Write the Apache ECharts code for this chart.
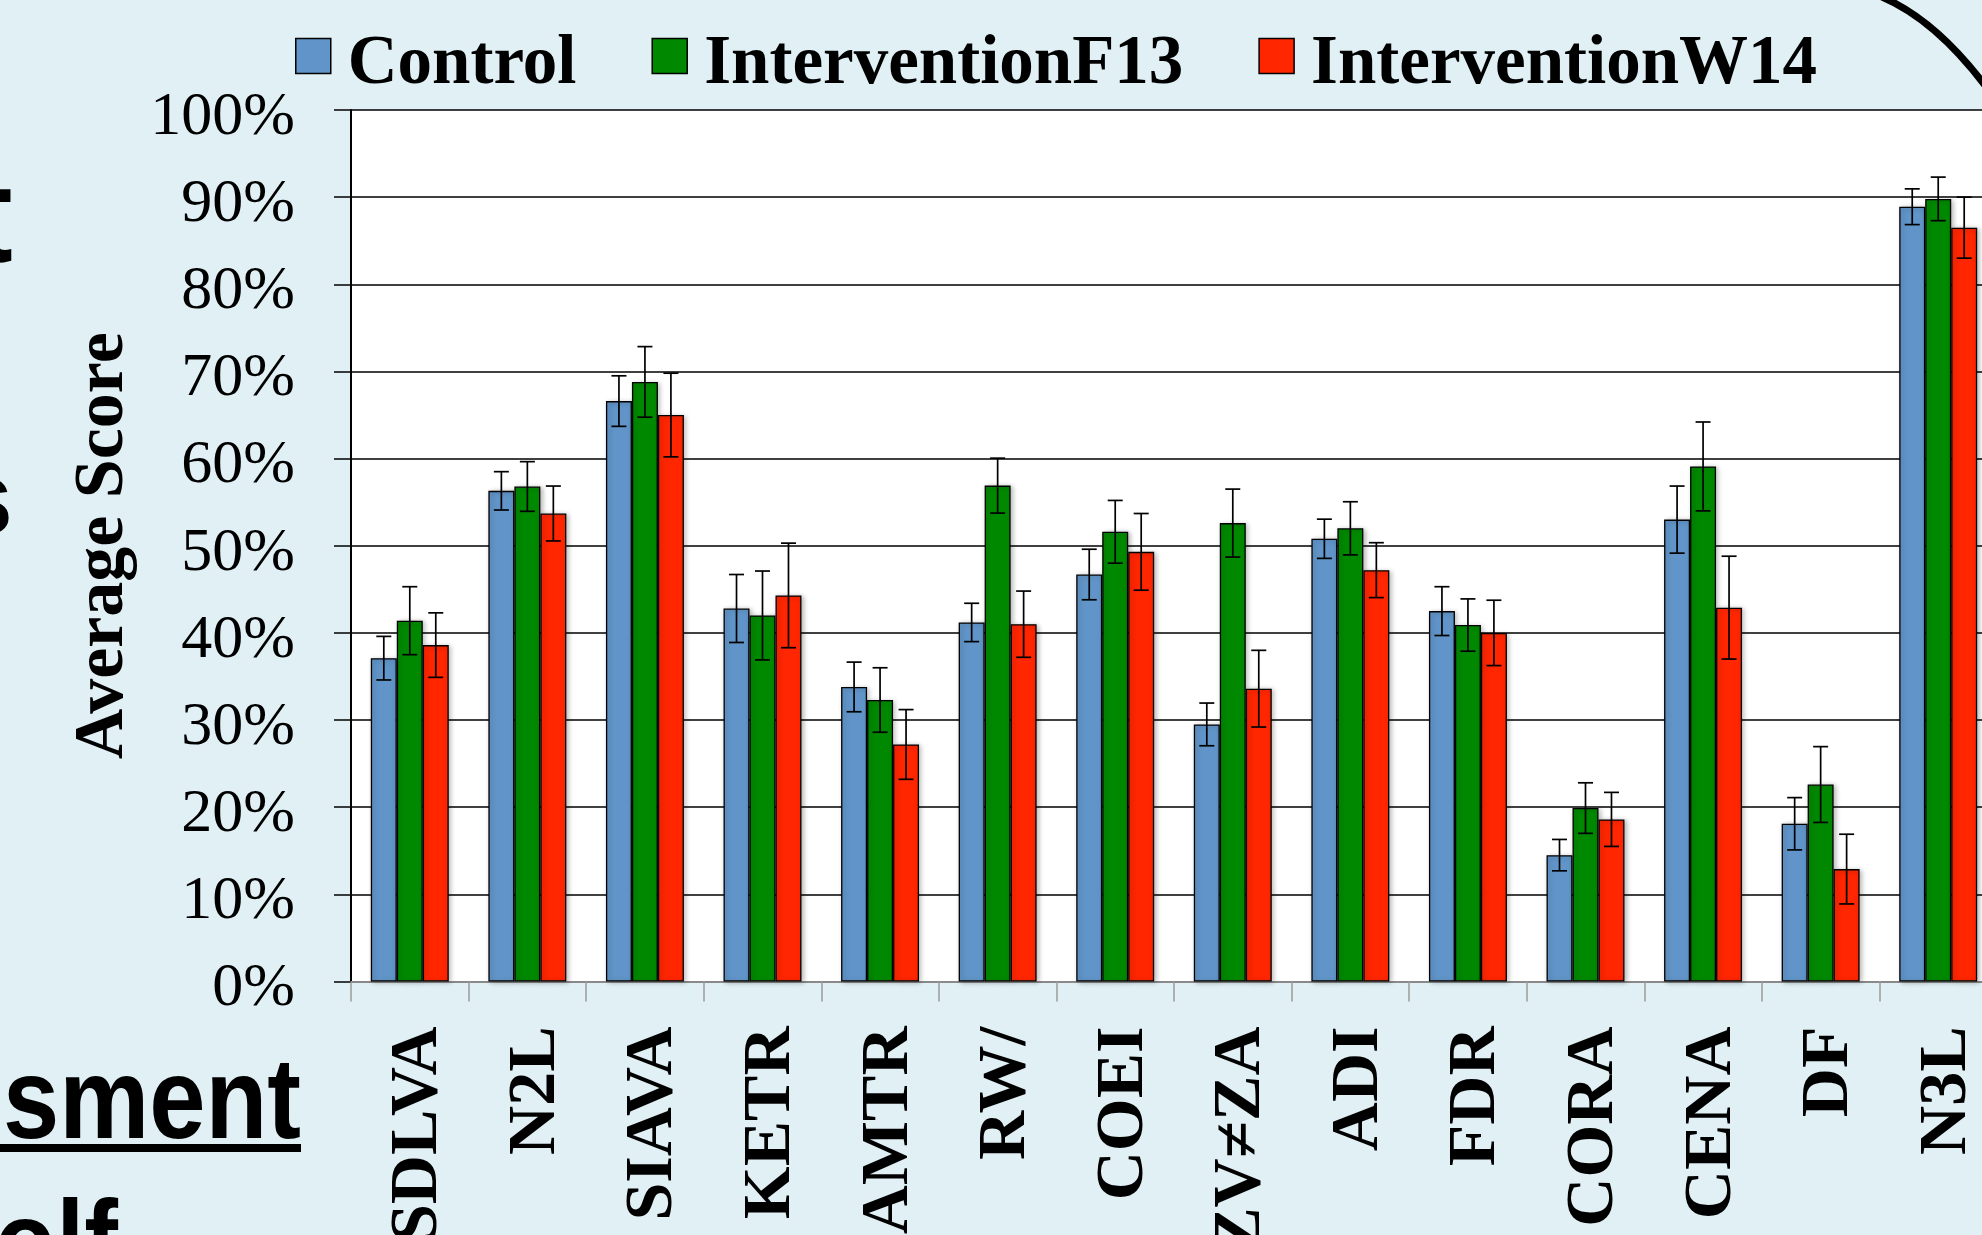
<!DOCTYPE html>
<html>
<head>
<meta charset="utf-8">
<title>Average Score by Item</title>
<script src="https://cdn.jsdelivr.net/npm/echarts@6/dist/echarts.min.js"></script>
<style>
  html, body { margin: 0; padding: 0; background: #E0F0F5; }
  #chart { width: 1982px; height: 1235px; }
</style>
</head>
<body>
<div id="chart"></div>
<script>
// Item labels along the x axis
const categories = ['SDLVA', 'N2L', 'SIAVA', 'KETR', 'AMTR', 'RW/', 'COEI', 'ZV\u2260ZA', 'ADI', 'FDR', 'CORA', 'CENA', 'DF', 'N3L'];

// Average scores (%) and half-width of the error bars (%)
const control      = [37.1, 56.3, 66.6, 42.8, 33.8, 41.2, 46.7, 29.5, 50.8, 42.5, 14.5, 53.0, 18.1, 88.9];
const controlErr   = [2.5, 2.2, 2.9, 3.9, 2.85, 2.2, 2.9, 2.45, 2.25, 2.8, 1.8, 3.85, 3.0, 2.05];
const interventionF13    = [41.4, 56.8, 68.8, 42.0, 32.3, 56.9, 51.6, 52.6, 52.0, 40.9, 19.9, 59.1, 22.6, 89.8];
const interventionF13Err = [3.9, 2.85, 4.05, 5.1, 3.7, 3.15, 3.6, 3.9, 3.05, 3.0, 2.9, 5.1, 4.35, 2.5];
const interventionW14    = [38.6, 53.7, 65.0, 44.3, 27.2, 41.0, 49.3, 33.6, 47.2, 40.0, 18.6, 42.9, 12.9, 86.5];
const interventionW14Err = [3.7, 3.15, 4.8, 6.0, 4.0, 3.8, 4.4, 4.4, 3.15, 3.75, 3.1, 5.9, 4.0, 3.5];

// Y axis ticks
const yMin = 0, yMax = 100, yStep = 10;

const seriesDefs = [
  { name: 'Control', values: control, errors: controlErr, color: '#6195C9' },
  { name: 'InterventionF13', values: interventionF13, errors: interventionF13Err, color: '#008900' },
  { name: 'InterventionW14', values: interventionW14, errors: interventionW14Err, color: '#FF2600' }
];

const CAT_GAP = 0.337;          // share of each category left empty
const SERIF = "'Liberation Serif', 'Times New Roman', serif";
const SANS = "'Liberation Sans', Arial, sans-serif";

function errorBarRenderer(slot, count) {
  return function (params, api) {
    const idx = api.value(0);
    const v = api.value(1);
    const e = api.value(2);
    const band = api.size([1, 0])[0];
    const bw = band * (1 - CAT_GAP) / count;
    const off = (slot - (count - 1) / 2) * bw;
    const hi = api.coord([idx, v + e]);
    const lo = api.coord([idx, v - e]);
    const x = hi[0] + off;
    const cap = 7.5;
    const st = { stroke: '#000', lineWidth: 1.7 };
    return {
      type: 'group',
      children: [
        { type: 'line', shape: { x1: x, y1: hi[1], x2: x, y2: lo[1] }, style: st },
        { type: 'line', shape: { x1: x - cap, y1: hi[1], x2: x + cap, y2: hi[1] }, style: st },
        { type: 'line', shape: { x1: x - cap, y1: lo[1], x2: x + cap, y2: lo[1] }, style: st }
      ]
    };
  };
}

const barSeries = seriesDefs.map(function (s) {
  return {
    name: s.name,
    type: 'bar',
    data: s.values,
    barGap: '0%',
    barCategoryGap: (CAT_GAP * 100) + '%',
    itemStyle: {
      color: s.color,
      borderColor: '#000',
      borderWidth: 1.3,
      shadowColor: 'rgba(0,0,0,0.28)',
      shadowBlur: 5,
      shadowOffsetX: 2,
      shadowOffsetY: 1
    },
    emphasis: { disabled: true },
    z: 2
  };
});

const errSeries = seriesDefs.map(function (s, k) {
  return {
    name: s.name,
    type: 'custom',
    renderItem: errorBarRenderer(k, seriesDefs.length),
    data: s.values.map(function (v, i) { return [i, v, s.errors[i]]; }),
    encode: { x: 0, y: 1 },
    z: 5,
    silent: true
  };
});

const chart = echarts.init(document.getElementById('chart'), null, { renderer: 'canvas' });

chart.setOption({
  backgroundColor: '#E0F0F5',
  animation: false,
  legend: {
    data: seriesDefs.map(function (s) { return s.name; }),
    left: 290,
    top: 7,
    itemWidth: 35,
    itemHeight: 35,
    itemGap: 75,
    icon: 'rect',
    itemStyle: { borderColor: '#000', borderWidth: 1.5 },
    // names sit a little below the centre of their swatches
    formatter: function (name) { return '\n' + name; },
    textStyle: {
      fontFamily: SERIF,
      fontWeight: 'bold',
      fontSize: 69,
      lineHeight: 19,
      color: '#000',
      padding: [0, 0, 0, 12]
    }
  },
  grid: {
    left: 351,
    top: 110,
    width: 1646,
    height: 871.5,
    show: true,
    backgroundColor: '#FFFFFF',
    borderWidth: 0,
    containLabel: false,
    outerBoundsMode: 'none'
  },
  xAxis: {
    type: 'category',
    data: categories,
    boundaryGap: true,
    axisLine: { show: true, lineStyle: { color: '#8A8A8A', width: 2 } },
    axisTick: { show: true, length: 20, lineStyle: { color: '#9A9A9A', width: 1.5 } },
    axisLabel: {
      interval: 0,
      rotate: 90,
      margin: 45,
      fontFamily: SERIF,
      fontWeight: 'bold',
      fontSize: 68,
      color: '#000',
      verticalAlign: 'top',
      lineHeight: 18
    },
    splitLine: { show: false }
  },
  yAxis: {
    type: 'value',
    min: yMin,
    max: yMax,
    interval: yStep,
    name: 'Average Score',
    nameLocation: 'middle',
    nameRotate: 90,
    nameGap: 212,
    nameTextStyle: {
      fontFamily: SERIF,
      fontWeight: 'bold',
      fontSize: 70,
      color: '#000'
    },
    axisLine: { show: true, lineStyle: { color: '#000', width: 2 } },
    axisTick: { show: true, length: 17, lineStyle: { color: '#000', width: 1.5 } },
    axisLabel: {
      formatter: '{value}%',
      margin: 56,
      fontFamily: SERIF,
      fontSize: 62,
      color: '#000',
      verticalAlign: 'top',
      lineHeight: 15
    },
    splitLine: { show: true, lineStyle: { color: '#000', width: 1.5 } }
  },
  series: barSeries.concat(errSeries),
  graphic: [
    // slide text running behind the chart on the left
    { type: 'text', x: 13, y: 293, style: { text: 't', font: 'bold 138px ' + SANS, fill: '#000', textAlign: 'right', textVerticalAlign: 'bottom' } },
    { type: 'text', x: 13, y: 558, style: { text: 's', font: 'bold 106px ' + SANS, fill: '#000', textAlign: 'right', textVerticalAlign: 'bottom' } },
    { type: 'text', x: 301, y: 1164, scaleX: 0.88, style: { text: 'sment', font: 'bold 115px ' + SANS, fill: '#000', textAlign: 'right', textVerticalAlign: 'bottom' } },
    { type: 'rect', shape: { x: 0, y: 1144, width: 301, height: 8 }, style: { fill: '#000' } },
    { type: 'text', x: 118, y: 1307, scaleX: 0.88, style: { text: 'olf', font: 'bold 115px ' + SANS, fill: '#000', textAlign: 'right', textVerticalAlign: 'bottom' } },
    // curved stroke in the top-right corner
    { type: 'bezierCurve', shape: { x1: 1882, y1: -3, cpx1: 1936, cpy1: 20, x2: 1987, y2: 88 }, style: { stroke: '#000', lineWidth: 7, fill: null } }
  ]
});
</script>
</body>
</html>
